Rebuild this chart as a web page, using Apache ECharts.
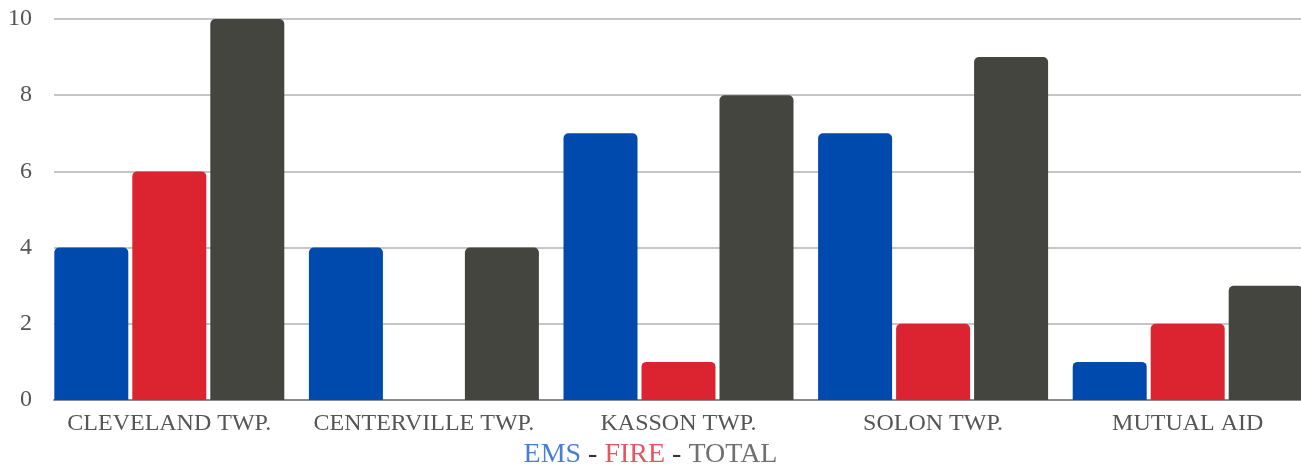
<!DOCTYPE html>
<html><head><meta charset="utf-8">
<script src="https://cdn.jsdelivr.net/npm/echarts@6/dist/echarts.min.js"></script>
<style>html,body{margin:0;padding:0;background:#fff}#c{width:1301px;height:465px}</style>
</head><body><div id="c"></div>
<script>
const categories = ['CLEVELAND TWP.', 'CENTERVILLE TWP.', 'KASSON TWP.', 'SOLON TWP.', 'MUTUAL AID'];
const emsValues = [4, 4, 7, 7, 1];
const fireValues = [6, 0, 1, 2, 2];
const totalValues = [10, 4, 8, 9, 3];
const yTicks = [0, 2, 4, 6, 8, 10];

const font = '"Liberation Serif", "DejaVu Serif", serif';
const chart = echarts.init(document.getElementById('c'), null, {renderer: 'canvas'});
const radius = [5, 5, 0, 0];
chart.setOption({
  animation: false,
  title: {
    left: 'center', top: 436,
    text: '{e|EMS} {d|-} {f|FIRE} {d|-} {t|TOTAL}',
    textStyle: {
      fontFamily: font, fontWeight: 'normal', fontSize: 28,
      rich: {
        e: {color: '#4a7ed6', fontSize: 28, fontFamily: font},
        f: {color: '#e85560', fontSize: 28, fontFamily: font},
        t: {color: '#707070', fontSize: 28, fontFamily: font},
        d: {color: '#333', fontSize: 28, fontFamily: font}
      }
    }
  },
  grid: [
    {left: 42, width: 1273, top: 19, bottom: 65, outerBoundsMode: 'none', containLabel: false},
    {left: 54, right: 0, top: 19, bottom: 65, outerBoundsMode: 'none', containLabel: false}
  ],
  xAxis: [
    {
      gridIndex: 0, type: 'category', data: categories,
      axisLine: {show: false}, axisTick: {show: false},
      axisLabel: {interval: 0, fontFamily: font, fontSize: 24, color: '#555', margin: 12}
    },
    {
      gridIndex: 1, type: 'category', data: categories,
      axisLine: {show: true, lineStyle: {color: '#8a8a8a', width: 2}},
      axisTick: {show: false}, axisLabel: {show: false}
    }
  ],
  yAxis: [
    {gridIndex: 0, type: 'value', min: 0, max: 10, interval: 2, show: false},
    {
      gridIndex: 1, type: 'value', min: 0, max: 10, interval: 2,
      axisLine: {show: false}, axisTick: {show: false},
      splitLine: {lineStyle: {color: '#c6c6c6', width: 2}},
      axisLabel: {fontFamily: font, fontSize: 24, color: '#555', margin: 22,
        formatter: v => yTicks.includes(v) ? String(v) : ''}
    }
  ],
  series: [
    {name: 'EMS', type: 'bar', xAxisIndex: 0, yAxisIndex: 0, data: emsValues,
      barWidth: 74, barGap: '5.4%', itemStyle: {color: '#004aad', borderRadius: radius}},
    {name: 'FIRE', type: 'bar', xAxisIndex: 0, yAxisIndex: 0, data: fireValues,
      barWidth: 74, barGap: '5.4%', itemStyle: {color: '#dc2430', borderRadius: radius}},
    {name: 'TOTAL', type: 'bar', xAxisIndex: 0, yAxisIndex: 0, data: totalValues,
      barWidth: 74, barGap: '5.4%', itemStyle: {color: '#45453f', borderRadius: radius}}
  ]
});
</script></body></html>
